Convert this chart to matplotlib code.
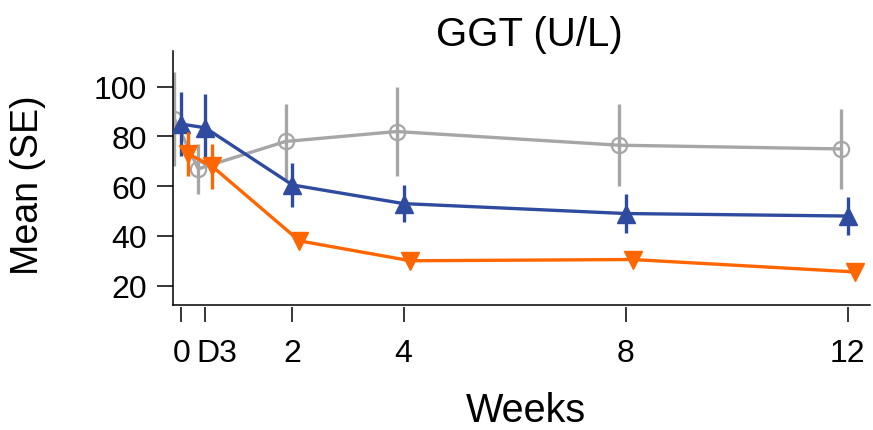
import numpy as np
import matplotlib
matplotlib.use('Agg')
import matplotlib.pyplot as plt
from matplotlib.transforms import ScaledTranslation

plt.rcParams['font.family'] = ['Liberation Sans', 'DejaVu Sans']

# time points (weeks), D3 = day 3
weeks = [0, 3 / 7, 2, 4, 8, 12]
tick_labels = ['0', 'D3', '2', '4', '8', '12']

gray_mean = [87, 67, 78, 82, 76.5, 75]
gray_se = [19, 10, 15, 18, 16.5, 16]
blue_mean = [85, 83.5, 60.5, 53, 49, 48]
blue_se = [13, 13.5, 9, 7.5, 8, 7.5]
orange_mean = [73, 68, 38, 30, 30.5, 25.5]
orange_se = [9, 9, 2, 2, 2, 2]

c_gray = '#a6a6a6'
c_blue = '#2f4b9f'
c_orange = '#ff6600'
shift = 0.125  # horizontal dodge between groups

fig = plt.figure(figsize=(8.73, 4.31), dpi=100)
ax = fig.add_axes([173 / 873, 1 - 306 / 431, 697 / 873, 254 / 431])

x = np.array(weeks)
ax.errorbar(x - shift, gray_mean, yerr=gray_se, color=c_gray, lw=2.4, elinewidth=2.4,
            marker='o', ms=11, mfc='none', mec=c_gray, mew=1.6, capsize=0, zorder=2)
ax.errorbar(x, blue_mean, yerr=blue_se, color=c_blue, lw=2.4, elinewidth=2.4,
            marker='^', ms=13, mfc=c_blue, mec=c_blue, capsize=0, zorder=3)
ax.errorbar(x + shift, orange_mean, yerr=orange_se, color=c_orange, lw=2.4, elinewidth=2.4,
            marker='v', ms=13, mfc=c_orange, mec=c_orange, capsize=0, zorder=4)

ax.set_xlim(-0.152, 12.4)
ax.set_ylim(12.2, 114.4)
ax.set_xticks(weeks)
ax.set_xticklabels(tick_labels)
ax.set_yticks([20, 40, 60, 80, 100])

for s in ['top', 'right']:
    ax.spines[s].set_visible(False)
ax.spines['left'].set_linewidth(1.1)
# x ticks sit slightly below the frame line
ax.spines['bottom'].set_position(('outward', 1.5))
ax.spines['bottom'].set_visible(False)
ax.axhline(12.2, color='black', lw=1.1, clip_on=False, zorder=5)

ax.tick_params(axis='x', length=11, width=1.1, pad=11, labelsize=23)
ax.tick_params(axis='y', length=11.5, width=1.1, pad=7, labelsize=23)

# nudge the D3 label right so it clears the 0
d3 = ax.get_xticklabels()[1]
d3.set_transform(d3.get_transform() + ScaledTranslation(0.12, 0, fig.dpi_scale_trans))

fig.text(529 / 873, 1 - 46 / 431, 'GGT (U/L)', fontsize=29, ha='center', va='baseline')
fig.text(526 / 873, 1 - 422 / 431, 'Weeks', fontsize=28.5, ha='center', va='baseline')
fig.text(28 / 873, 1 - 185 / 431, 'Mean (SE)', fontsize=27, rotation=90, ha='center', va='center')

fig.savefig('out.png', dpi=100)
